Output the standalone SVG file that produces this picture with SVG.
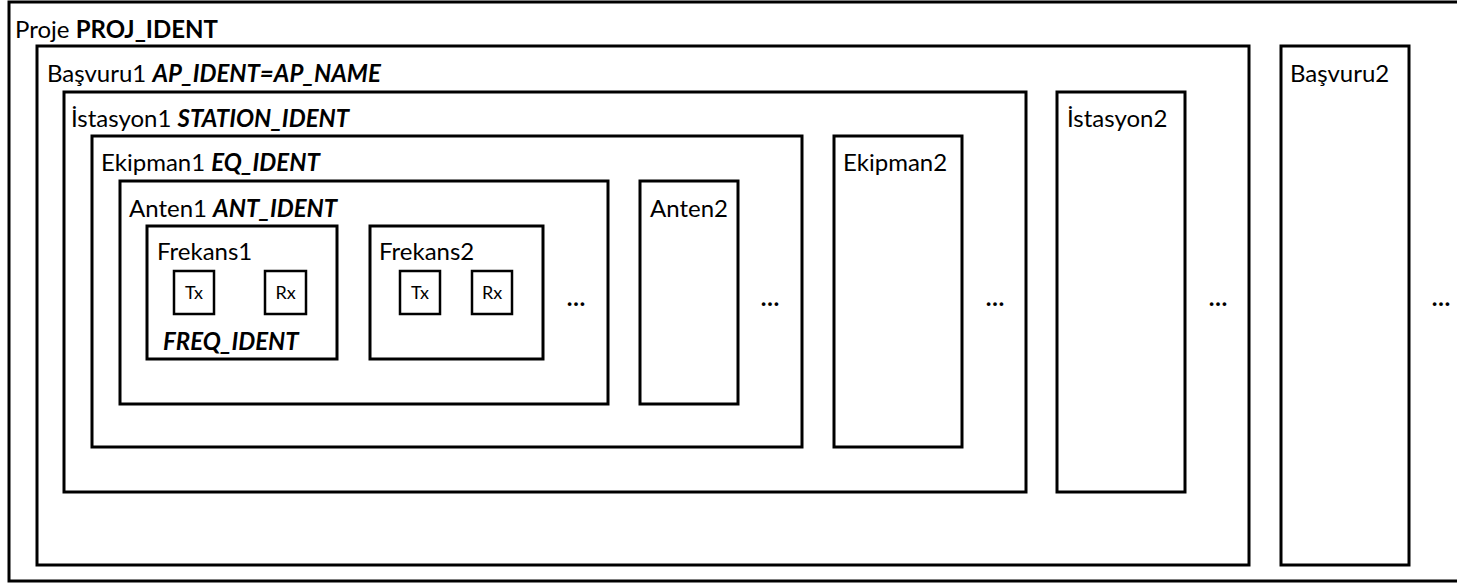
<svg xmlns="http://www.w3.org/2000/svg" width="1457" height="583" viewBox="0 0 1457 583">
<style>
.b{fill:#fff;stroke:#000;stroke-width:3}
.s{fill:#fff;stroke:#000;stroke-width:2.5}
text{font-family:Lato,"Open Sans","Liberation Sans",sans-serif;fill:#000;font-size:24px}
.k{font-weight:bold}
.ki{font-weight:bold;font-style:italic}
.t{font-size:18px;text-anchor:middle}
.d{font-weight:bold;font-size:24px;text-anchor:middle}
</style>
<rect width="1457" height="583" fill="#fff"/>
<g id="proje">
<rect class="b" x="9" y="2" width="1460" height="579"/>
<text x="15" y="38">Proje <tspan class="k">PROJ_IDENT</tspan></text>
</g>
<g id="basvuru1">
<rect class="b" x="37" y="46" width="1212" height="519"/>
<text x="47" y="82">Başvuru1 <tspan class="ki">AP_IDENT=AP_NAME</tspan></text>
</g>
<g id="basvuru2">
<rect class="b" x="1281" y="46" width="128" height="519"/>
<text x="1290" y="82">Başvuru2</text>
</g>
<g id="istasyon1">
<rect class="b" x="64" y="92" width="962" height="400"/>
<text x="71" y="127">İstasyon1 <tspan class="ki">STATION_IDENT</tspan></text>
</g>
<g id="istasyon2">
<rect class="b" x="1057" y="92" width="128" height="400"/>
<text x="1067" y="127">İstasyon2</text>
</g>
<g id="ekipman1">
<rect class="b" x="92" y="136" width="710" height="311"/>
<text x="101" y="171">Ekipman1 <tspan class="ki">EQ_IDENT</tspan></text>
</g>
<g id="ekipman2">
<rect class="b" x="834" y="136" width="128" height="311"/>
<text x="843" y="171">Ekipman2</text>
</g>
<g id="anten1">
<rect class="b" x="120" y="181" width="488" height="223"/>
<text x="129" y="217">Anten1 <tspan class="ki">ANT_IDENT</tspan></text>
</g>
<g id="anten2">
<rect class="b" x="640" y="181" width="98" height="223"/>
<text x="650" y="217">Anten2</text>
</g>
<g id="frekans1">
<rect class="b" x="147" y="226" width="190" height="133"/>
<text x="157" y="260">Frekans1</text>
<text class="ki" x="163" y="350">FREQ_IDENT</text>
</g>
<g id="frekans2">
<rect class="b" x="370" y="226" width="173" height="133"/>
<text x="379" y="260">Frekans2</text>
</g>
<g id="tx1"><rect class="s" x="174" y="271" width="40" height="43"/><text class="t" x="194" y="299">Tx</text></g>
<g id="rx1"><rect class="s" x="265" y="271" width="41" height="43"/><text class="t" x="285.5" y="299">Rx</text></g>
<g id="tx2"><rect class="s" x="400" y="271" width="40" height="43"/><text class="t" x="420" y="299">Tx</text></g>
<g id="rx2"><rect class="s" x="472" y="271" width="40" height="43"/><text class="t" x="492" y="299">Rx</text></g>
<g id="dots">
<text class="d" x="576" y="306">…</text>
<text class="d" x="770" y="306">…</text>
<text class="d" x="995" y="306">…</text>
<text class="d" x="1218" y="306">…</text>
<text class="d" x="1441" y="306">…</text>
</g>
<g id="connectors"/>
</svg>
